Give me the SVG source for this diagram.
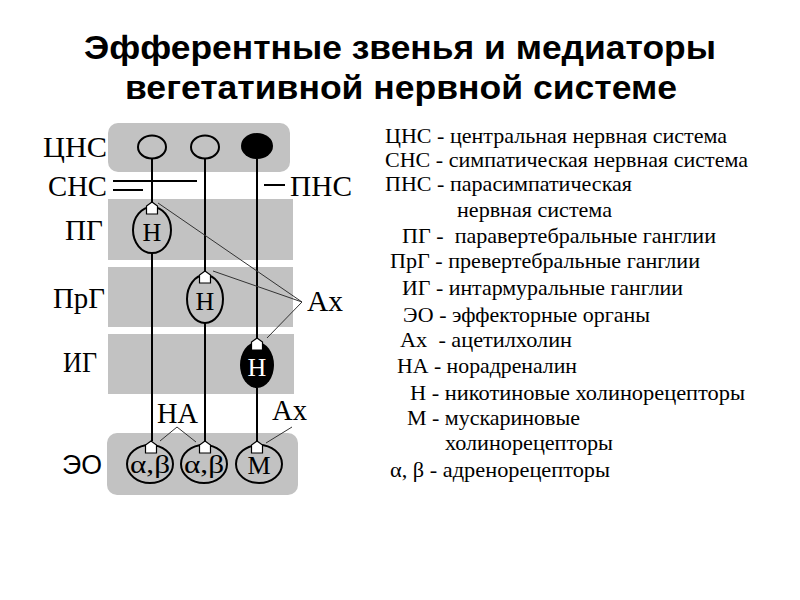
<svg xmlns="http://www.w3.org/2000/svg" width="800" height="600" viewBox="0 0 800 600">
<style>
.band{fill:#c2c2c2}
.lbl{font-family:"Liberation Serif","Times New Roman",serif;font-size:30px;fill:#000}
.lbls{font-family:"Liberation Sans",Arial,sans-serif;font-size:27px;fill:#000}
.leg{font-family:"Liberation Serif","Times New Roman",serif;font-size:21px;fill:#000}
.title{font-family:"Liberation Sans",Arial,sans-serif;font-size:34px;font-weight:bold;fill:#000;text-anchor:middle}
.ax{stroke:#000;stroke-width:2;fill:none}
.thin{stroke:#333;stroke-width:1;fill:none}
.cell{fill:none;stroke:#000;stroke-width:2}
.rec{fill:#fff;stroke:#000;stroke-width:1.2}
.in{font-family:"Liberation Serif","Times New Roman",serif;font-size:26px;text-anchor:middle}
</style>
<defs>
<path id="rcp" d="M-5.5,4 L-5.5,-4 L0,-8 L5.5,-4 L5.5,4 Z"/>
</defs>
<rect x="0" y="0" width="800" height="600" fill="#fff"/>
<g id="title">
<text class="title" x="400" y="59" textLength="632" lengthAdjust="spacingAndGlyphs">Эфферентные звенья и медиаторы</text>
<text class="title" x="401" y="99" textLength="552" lengthAdjust="spacingAndGlyphs">вегетативной нервной системе</text>
</g>
<g id="bands">
<rect id="band-cns" class="band" x="108" y="123" width="182" height="49" rx="10"/>
<rect id="band-pg" class="band" x="108" y="199" width="185" height="61"/>
<rect id="band-prg" class="band" x="108" y="267" width="185" height="60"/>
<rect id="band-ig" class="band" x="108" y="334" width="186" height="60"/>
<rect id="band-eo" class="band" x="107" y="433" width="191" height="62" rx="10"/>
</g>
<g id="labels">
<text class="lbl" x="43" y="157" textLength="64" lengthAdjust="spacingAndGlyphs">ЦНС</text>
<text class="lbl" x="48" y="196" textLength="59" lengthAdjust="spacingAndGlyphs">СНС</text>
<text class="lbl" x="290" y="196" textLength="62" lengthAdjust="spacingAndGlyphs">ПНС</text>
<text class="lbl" x="65" y="240" textLength="38" lengthAdjust="spacingAndGlyphs">ПГ</text>
<text class="lbl" x="53" y="308" textLength="52" lengthAdjust="spacingAndGlyphs">ПрГ</text>
<text class="lbl" x="63" y="372" textLength="34" lengthAdjust="spacingAndGlyphs">ИГ</text>
<text class="lbls" x="62" y="474" textLength="40" lengthAdjust="spacingAndGlyphs">ЭО</text>
<text class="lbl" x="307" y="311" textLength="36" lengthAdjust="spacingAndGlyphs">Ах</text>
<text class="lbl" x="157" y="423" textLength="41" lengthAdjust="spacingAndGlyphs">НА</text>
<text class="lbl" x="272" y="420" textLength="35" lengthAdjust="spacingAndGlyphs">Ах</text>
</g>
<g id="connectors">
<line class="ax" x1="113" y1="181" x2="197" y2="181" stroke-width="1.5"/>
<line class="ax" x1="113" y1="190" x2="143" y2="190" stroke-width="1.5"/>
<line class="ax" x1="264" y1="185" x2="285" y2="185" stroke-width="1.5"/>
<line class="ax" x1="152" y1="159" x2="152" y2="202"/>
<line class="ax" x1="152" y1="253" x2="152" y2="441"/>
<line class="ax" x1="205" y1="159" x2="205" y2="271"/>
<line class="ax" x1="205" y1="323" x2="205" y2="441"/>
<line class="ax" x1="257" y1="159" x2="257" y2="338"/>
<line class="ax" x1="257" y1="388" x2="257" y2="441"/>
<polyline class="thin" points="158,203 302,302 213,271"/>
<line class="thin" x1="302" y1="302" x2="267" y2="338"/>
<line class="thin" x1="292" y1="427" x2="266" y2="443"/>
<polyline class="thin" points="160,441 177,427 196,442"/>
</g>
<g id="cns-neurons">
<ellipse class="cell" cx="152" cy="147" rx="14" ry="11.5"/>
<ellipse class="cell" cx="205" cy="147" rx="14" ry="11.5"/>
<ellipse cx="257" cy="146" rx="16" ry="13" fill="#000"/>
</g>
<g id="node-pg">
<ellipse class="cell" cx="152" cy="230" rx="19" ry="23"/>
<use href="#rcp" class="rec" x="152" y="210"/>
<text class="in" x="152" y="241">Н</text>
</g>
<g id="node-prg">
<ellipse class="cell" cx="205" cy="299" rx="18" ry="24"/>
<use href="#rcp" class="rec" x="205" y="279"/>
<text class="in" x="205" y="310">Н</text>
</g>
<g id="node-ig">
<ellipse cx="257" cy="365" rx="17" ry="23" fill="#000"/>
<use href="#rcp" class="rec" x="257" y="346"/>
<text class="in" x="257" y="376" fill="#fff">Н</text>
</g>
<g id="node-eo1">
<ellipse class="cell" cx="150" cy="464" rx="23" ry="19"/>
<use href="#rcp" class="rec" x="151" y="449"/>
<text class="in" x="150" y="473" textLength="40" lengthAdjust="spacingAndGlyphs">α,β</text>
</g>
<g id="node-eo2">
<ellipse class="cell" cx="204" cy="464" rx="23" ry="19"/>
<use href="#rcp" class="rec" x="205" y="449"/>
<text class="in" x="204" y="473" textLength="40" lengthAdjust="spacingAndGlyphs">α,β</text>
</g>
<g id="node-eo3">
<ellipse class="cell" cx="259" cy="464" rx="23" ry="19"/>
<use href="#rcp" class="rec" x="257" y="449"/>
<text class="in" x="259" y="474">М</text>
</g>
<g id="legend">
<text class="leg" x="385" y="143" textLength="342" lengthAdjust="spacingAndGlyphs">ЦНС - центральная нервная система</text>
<text class="leg" x="385" y="167" textLength="363" lengthAdjust="spacingAndGlyphs">СНС - симпатическая нервная система</text>
<text class="leg" x="385" y="191" textLength="247" lengthAdjust="spacingAndGlyphs">ПНС - парасимпатическая</text>
<text class="leg" x="457" y="217" textLength="155" lengthAdjust="spacingAndGlyphs">нервная система</text>
<text class="leg" x="402" y="243" textLength="314" lengthAdjust="spacingAndGlyphs" xml:space="preserve">ПГ -  паравертебральные ганглии</text>
<text class="leg" x="390" y="268" textLength="310" lengthAdjust="spacingAndGlyphs">ПрГ - превертебральные ганглии</text>
<text class="leg" x="402" y="295" textLength="281" lengthAdjust="spacingAndGlyphs">ИГ - интармуральные ганглии</text>
<text class="leg" x="403" y="322" textLength="247" lengthAdjust="spacingAndGlyphs">ЭО - эффекторные органы</text>
<text class="leg" x="400" y="347" textLength="172" lengthAdjust="spacingAndGlyphs" xml:space="preserve">Ах  - ацетилхолин</text>
<text class="leg" x="397" y="373" textLength="180" lengthAdjust="spacingAndGlyphs">НА - норадреналин</text>
<text class="leg" x="410" y="400" textLength="335" lengthAdjust="spacingAndGlyphs">Н - никотиновые холинорецепторы</text>
<text class="leg" x="407" y="425" textLength="173" lengthAdjust="spacingAndGlyphs">М - мускариновые</text>
<text class="leg" x="445" y="450" textLength="168" lengthAdjust="spacingAndGlyphs">холинорецепторы</text>
<text class="leg" x="390" y="477" textLength="220" lengthAdjust="spacingAndGlyphs">α, β - адренорецепторы</text>
</g>
</svg>
